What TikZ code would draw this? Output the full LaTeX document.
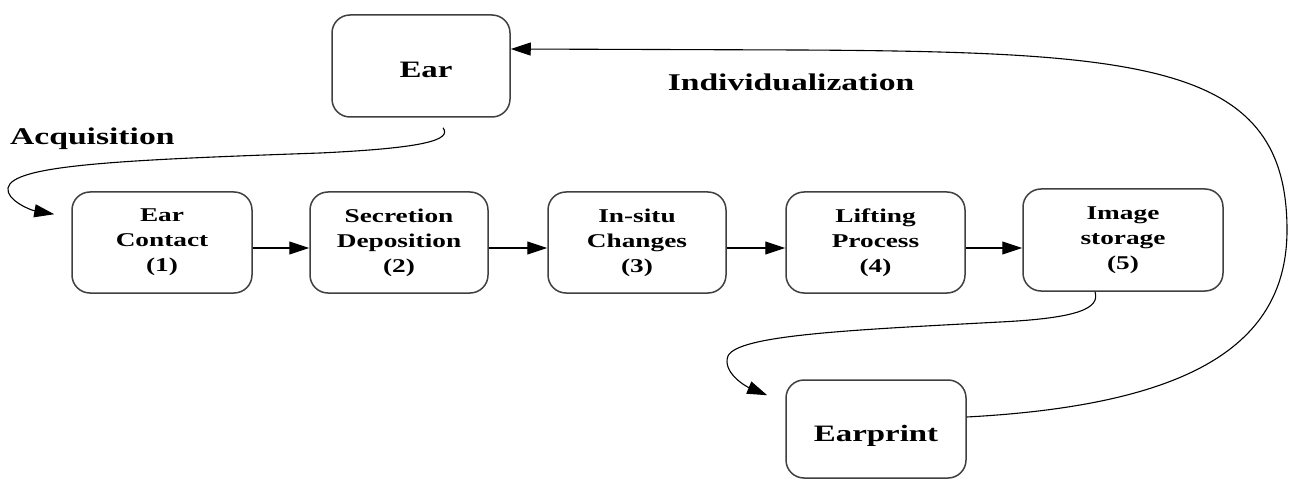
\documentclass[tikz,border=0pt]{standalone}
\usepackage{fontspec}
\setmainfont{Liberation Serif}[FakeStretch=1.4]
\usetikzlibrary{arrows.meta}
\tikzset{
  boxline/.style={draw=black!75, line width=1.5pt, rounded corners=18pt, inner sep=0pt},
  stepbox/.style={boxline, align=center, font=\fontsize{19.5}{25}\selectfont\bfseries},
  bigtext/.style={font=\fontsize{23.5}{27}\selectfont\bfseries, inner sep=0pt},
  lbl/.style={font=\fontsize{24}{28}\selectfont\bfseries, inner sep=0pt},
  conn/.style={draw=black, line width=1.1pt, -{Triangle[length=20pt,width=13pt]}},
}
\begin{document}
\begin{tikzpicture}[x=1pt,y=-1pt]
\useasboundingbox[fill=white] (0,0) rectangle (1290,481);
\node[boxline, minimum width=178pt, minimum height=102pt] (ear) at (421,66) {};
\node[bigtext] (eartxt) at (426,70) {Ear};
\node[stepbox, minimum width=180pt, minimum height=101pt] (b1) at (162,242.5) {Ear\\Contact\\(1)};
\node[stepbox, minimum width=178pt, minimum height=101pt] (b2) at (399,242.5) {Secretion\\Deposition\\(2)};
\node[stepbox, minimum width=178pt, minimum height=101pt] (b3) at (637,242.5) {In-situ\\Changes\\(3)};
\node[stepbox, minimum width=179pt, minimum height=101pt] (b4) at (875.5,242.5) {Lifting\\Process\\(4)};
\node[stepbox, minimum width=200pt, minimum height=102pt] (b5) at (1123,240) {Image\\storage\\(5)};
\node[boxline, minimum width=180pt, minimum height=98pt] (ep) at (876,429) {};
\node[bigtext] (eptxt) at (876,436) {Earprint};
\node[lbl, anchor=west] (acq) at (10,139) {Acquisition};
\node[lbl] (ind) at (791,82) {Individualization};
\coordinate (acqend) at ([xshift=-17pt,yshift=-23pt]b1.north west);
\coordinate (acqstart) at ([xshift=22pt,yshift=-10pt]ear.south);
\coordinate (epend) at ([xshift=-18pt,yshift=-16pt]ep.north west);
\coordinate (epstart) at ([xshift=-28pt]b5.south);
\draw[conn] (b1.east |- 0,248) -- (b2.west |- 0,248);
\draw[conn] (b2.east |- 0,248) -- (b3.west |- 0,248);
\draw[conn] (b3.east |- 0,248) -- (b4.west |- 0,248);
\draw[conn] (b4.east |- 0,248) -- (b5.west |- 0,248);
\draw[conn] (acqstart) .. controls (452,140) and (425,148) .. (320,153)
  .. controls (120,160) and (12,165) .. (8,188)
  .. controls (6,200) and (30,210) .. (acqend);
\draw[conn] (epstart) .. controls (1100,308) and (1080,318) .. (1000,322)
  .. controls (850,330) and (738,335) .. (728,356)
  .. controls (722,372) and (745,386) .. (epend);
\draw[conn] ([yshift=12pt]ep.east) .. controls (1190,405) and (1287,345) .. (1287,230)
  .. controls (1287,65) and (1150,52) .. (800,50) -- ([yshift=17pt]ear.east);
\end{tikzpicture}
\end{document}
